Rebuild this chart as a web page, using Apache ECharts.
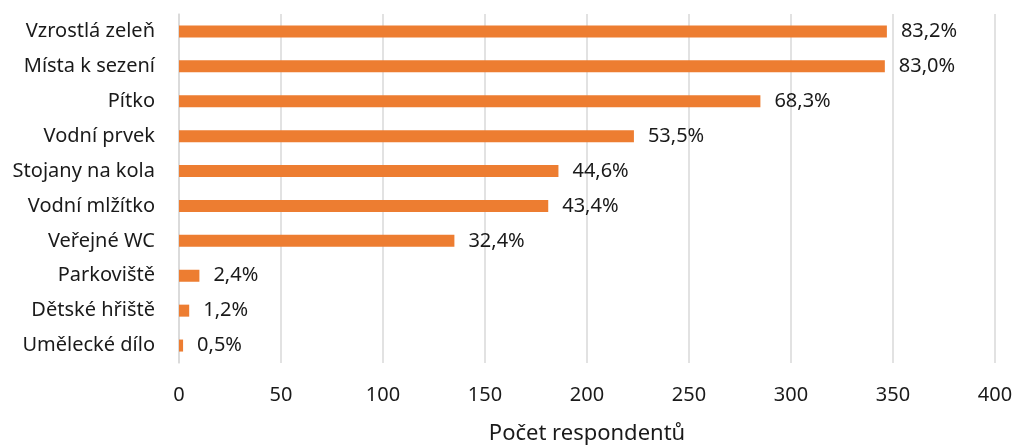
<!DOCTYPE html>
<html>
<head>
<meta charset="utf-8">
<script src="https://cdn.jsdelivr.net/npm/echarts@6/dist/echarts.min.js"></script>
<style>
  html, body { margin: 0; padding: 0; background: #fff; }
  #chart { width: 1016px; height: 446px; }
</style>
</head>
<body>
<div id="chart"></div>
<script>
// Survey: which amenities respondents want (count of respondents)
const categories = [
  'Vzrostlá zeleň', 'Místa k sezení', 'Pítko', 'Vodní prvek', 'Stojany na kola',
  'Vodní mlžítko', 'Veřejné WC', 'Parkoviště', 'Dětské hřiště', 'Umělecké dílo'
];
const respondents = [347, 346, 285, 223, 186, 181, 135, 10, 5, 2];
const totalRespondents = 417;
const xTicks = [0, 50, 100, 150, 200, 250, 300, 350, 400];

const font = '"Noto Sans", "Open Sans", sans-serif';
const chart = echarts.init(document.getElementById('chart'));

chart.setOption({
  animation: false,
  grid: { left: 179, right: 21, top: 14, bottom: 83, containLabel: false, outerBoundsMode: 'none' },
  xAxis: {
    type: 'value',
    min: xTicks[0],
    max: xTicks[xTicks.length - 1],
    interval: xTicks[1] - xTicks[0],
    name: 'Počet respondentů',
    nameLocation: 'middle',
    nameGap: 60,
    nameTextStyle: { fontFamily: font, fontSize: 22, color: '#1a1a1a' },
    axisLine: { show: false },
    axisTick: { show: false },
    axisLabel: { fontFamily: font, fontSize: 20, color: '#1a1a1a', margin: 22 },
    splitLine: { lineStyle: { color: '#d9d9d9', width: 1.5 } }
  },
  yAxis: {
    type: 'category',
    inverse: true,
    data: categories,
    axisLine: { show: true, lineStyle: { color: '#d9d9d9', width: 1.5 } },
    axisTick: { show: false },
    axisLabel: { fontFamily: font, fontSize: 20, color: '#1a1a1a', margin: 24 }
  },
  series: [{
    type: 'bar',
    data: respondents,
    barWidth: 12,
    itemStyle: { color: '#ED7D31' },
    label: {
      show: true,
      position: 'right',
      distance: 14,
      fontFamily: font,
      fontSize: 20,
      color: '#1a1a1a',
      formatter: p => (p.value / totalRespondents * 100).toFixed(1).replace('.', ',') + '%'
    }
  }]
});
</script>
</body>
</html>
